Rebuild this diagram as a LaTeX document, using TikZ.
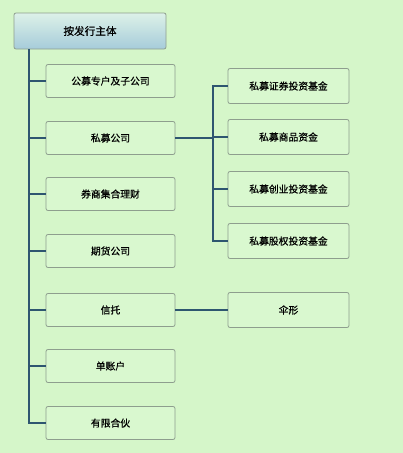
\documentclass[tikz,border=0pt]{standalone}
\usepackage{fontspec}
\newfontfamily\cjk[FakeBold=0.6]{Noto Sans CJK SC}
\definecolor{bggreen}{HTML}{D5F6C9}
\definecolor{boxgreen}{HTML}{D9F8CF}
\definecolor{boxedge}{HTML}{8E9E8E}
\definecolor{linkblue}{HTML}{2E5670}
\definecolor{roottop}{HTML}{DDF1E8}
\definecolor{rootbot}{HTML}{A6CCDA}
\tikzset{
  kindbox/.style={draw=boxedge, fill=boxgreen, rounded corners=2pt, line width=0.8pt,
    minimum width=129pt, minimum height=33pt, font=\cjk\fontsize{9.8}{12}\selectfont},
  subbox/.style={kindbox, minimum width=121pt, minimum height=35pt},
  rootbox/.style={draw=boxedge, top color=roottop, bottom color=rootbot, rounded corners=2pt,
    line width=0.8pt, minimum width=152pt, minimum height=36pt, font=\cjk\fontsize{10.6}{13}\selectfont},
  link/.style={draw=linkblue, line width=2pt}
}
\begin{document}
\begin{tikzpicture}[x=1pt, y=-1pt]
  \fill[bggreen] (0,0) rectangle (403,453);
  \useasboundingbox (0,0) rectangle (403,453);
  % issuer kinds
  \node[rootbox] (root) at (90,31) {按发行主体};
  \node[kindbox] (fund) at (110.5,81) {公募专户及子公司};
  \node[kindbox] (priv) at (110.5,138) {私募公司};
  \node[kindbox] (broker) at (110.5,194) {券商集合理财};
  \node[kindbox] (futures) at (110.5,251) {期货公司};
  \node[kindbox] (trust) at (110.5,310) {信托};
  \node[kindbox] (single) at (110.5,366) {单账户};
  \node[kindbox] (partner) at (110.5,423) {有限合伙};
  % private funds
  \node[subbox] (sec) at (288.5,86) {私募证券投资基金};
  \node[subbox] (comm) at (288.5,137) {私募商品资金};
  \node[subbox] (vent) at (288.5,189) {私募创业投资基金};
  \node[subbox] (equity) at (288.5,241) {私募股权投资基金};
  \node[subbox] (umb) at (288.5,310) {伞形};
  % trunk
  \coordinate (trunk) at (29,0);
  \draw[link] (root.south -| trunk) -- (partner.west -| trunk) -- (partner.west);
  \foreach \k in {fund,priv,broker,futures,trust,single}
    \draw[link] (\k.west -| trunk) -- (\k.west);
  % branch of private company
  \coordinate (branch) at (213,0);
  \draw[link] (priv.east) -- (priv.east -| branch);
  \draw[link] (sec.west) -- (sec.west -| branch) -- (equity.west -| branch) -- (equity.west);
  \foreach \k in {comm,vent}
    \draw[link] (\k.west -| branch) -- (\k.west);
  \draw[link] (trust.east) -- (umb.west);
\end{tikzpicture}
\end{document}
